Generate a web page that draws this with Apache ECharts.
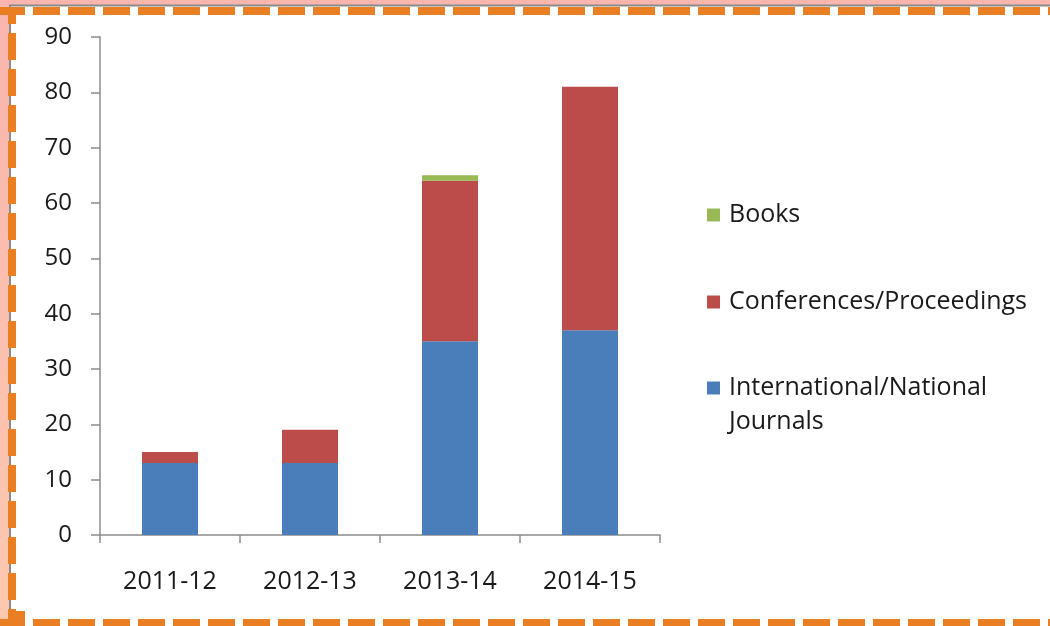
<!DOCTYPE html>
<html>
<head>
<meta charset="utf-8">
<title>Publications by year</title>
<script src="https://cdn.jsdelivr.net/npm/echarts@6/dist/echarts.min.js"></script>
<style>
  html, body { margin: 0; padding: 0; background: #ffffff; }
  #chart { width: 1050px; height: 626px; }
</style>
</head>
<body>
<div id="chart"></div>
<script>
// Academic years on the category axis
const years = ['2011-12', '2012-13', '2013-14', '2014-15'];

// Publication counts per year, one array per type (stacked bottom to top)
const journals = [13, 13, 35, 37];
const conferences = [2, 6, 29, 44];
const books = [0, 0, 1, 0];

const seriesNames = ['International/National Journals', 'Conferences/Proceedings', 'Books'];
const seriesColors = ['#4a7ebb', '#bc4c49', '#98b954'];

// Value axis range
const yMin = 0;
const yMax = 90;
const yStep = 10;

const FONT = '"Open Sans", "Liberation Sans", sans-serif';

const chart = echarts.init(document.getElementById('chart'), null, { renderer: 'canvas' });

// Legend icons: a 13px square, with spare room to the right so the text sits 9px from it
const squareIcon = 'path://M0,0L13,0L13,13L0,13Z M17,0';
const squareTopIcon = 'path://M0,0L13,0L13,13L0,13Z M17,47';

function legendBlock(name, top, opts) {
  return Object.assign({
    data: [{ name: name, icon: squareIcon }],
    orient: 'vertical',
    left: 707,
    top: top,
    padding: 0,
    itemWidth: 17,
    itemHeight: 13,
    selectedMode: false,
    textStyle: { fontFamily: FONT, fontSize: 25, color: '#1a1a1a', lineHeight: 34 }
  }, opts || {});
}

const orange = '#e97f22';

const option = {
  backgroundColor: '#ffffff',
  animation: false,
  grid: { left: 100, right: 390, top: 37, bottom: 91, containLabel: false },
  legend: [
    legendBlock('Books', 198),
    legendBlock('Conferences/Proceedings', 285),
    legendBlock('International/National Journals', 371, {
      data: [{ name: 'International/National Journals', icon: squareTopIcon }],
      itemHeight: 47,
      formatter: function () { return 'International/National\nJournals'; }
    })
  ],
  xAxis: {
    type: 'category',
    data: years,
    axisLine: { lineStyle: { color: '#8c8c8c', width: 1.5 } },
    axisTick: { show: true, length: 8, alignWithLabel: false, lineStyle: { color: '#8c8c8c', width: 1.5 } },
    axisLabel: { fontFamily: FONT, fontSize: 25, color: '#1a1a1a', margin: 34 },
    splitLine: { show: false }
  },
  yAxis: {
    type: 'value',
    min: yMin,
    max: yMax,
    interval: yStep,
    axisLine: { show: true, lineStyle: { color: '#8c8c8c', width: 1.5 } },
    axisTick: { show: true, length: 9, lineStyle: { color: '#8c8c8c', width: 1.5 } },
    axisLabel: { fontFamily: FONT, fontSize: 24, color: '#1a1a1a', margin: 28 },
    splitLine: { show: false }
  },
  series: [
    { name: seriesNames[0], type: 'bar', stack: 'total', data: journals, barWidth: 56,
      itemStyle: { color: seriesColors[0] } },
    { name: seriesNames[1], type: 'bar', stack: 'total', data: conferences, barWidth: 56,
      itemStyle: { color: seriesColors[1] } },
    { name: seriesNames[2], type: 'bar', stack: 'total', data: books, barWidth: 56,
      itemStyle: { color: seriesColors[2] } }
  ],
  graphic: [
    // slide edge strips along the top and left
    { type: 'rect', silent: true, z: 0, shape: { x: 0, y: 0, width: 1050, height: 5 },
      style: { fill: '#f9b6af' } },
    { type: 'rect', silent: true, z: 0, shape: { x: 0, y: 0, width: 9, height: 626 },
      style: { fill: new echarts.graphic.LinearGradient(0, 0, 0, 1, [
        { offset: 0, color: '#f9b5ae' }, { offset: 1, color: '#fcc9b0' }]) } },
    // thin grey frame lines
    { type: 'line', silent: true, z: 1, shape: { x1: 9, y1: 5.5, x2: 1050, y2: 5.5 },
      style: { stroke: '#8a8a8a', lineWidth: 2 } },
    { type: 'line', silent: true, z: 1, shape: { x1: 10, y1: 5, x2: 10, y2: 626 },
      style: { stroke: '#8a8a8a', lineWidth: 2 } },
    // orange dashed frame
    { type: 'line', silent: true, z: 2, shape: { x1: 0, y1: 11, x2: 1050, y2: 11 },
      style: { stroke: orange, lineWidth: 8, lineDash: [27, 8], lineDashOffset: 2 } },
    { type: 'line', silent: true, z: 2, shape: { x1: 0, y1: 623, x2: 1050, y2: 623 },
      style: { stroke: orange, lineWidth: 8, lineDash: [27, 8], lineDashOffset: 2 } },
    { type: 'line', silent: true, z: 2, shape: { x1: 12, y1: 8, x2: 12, y2: 626 },
      style: { stroke: orange, lineWidth: 8, lineDash: [27, 9], lineDashOffset: 11 } },
    { type: 'rect', silent: true, z: 2, shape: { x: 8, y: 7, width: 17, height: 8 },
      style: { fill: orange } },
    { type: 'rect', silent: true, z: 2, shape: { x: 8, y: 611, width: 17, height: 15 },
      style: { fill: orange } }
  ]
};

chart.setOption(option);
</script>
</body>
</html>
